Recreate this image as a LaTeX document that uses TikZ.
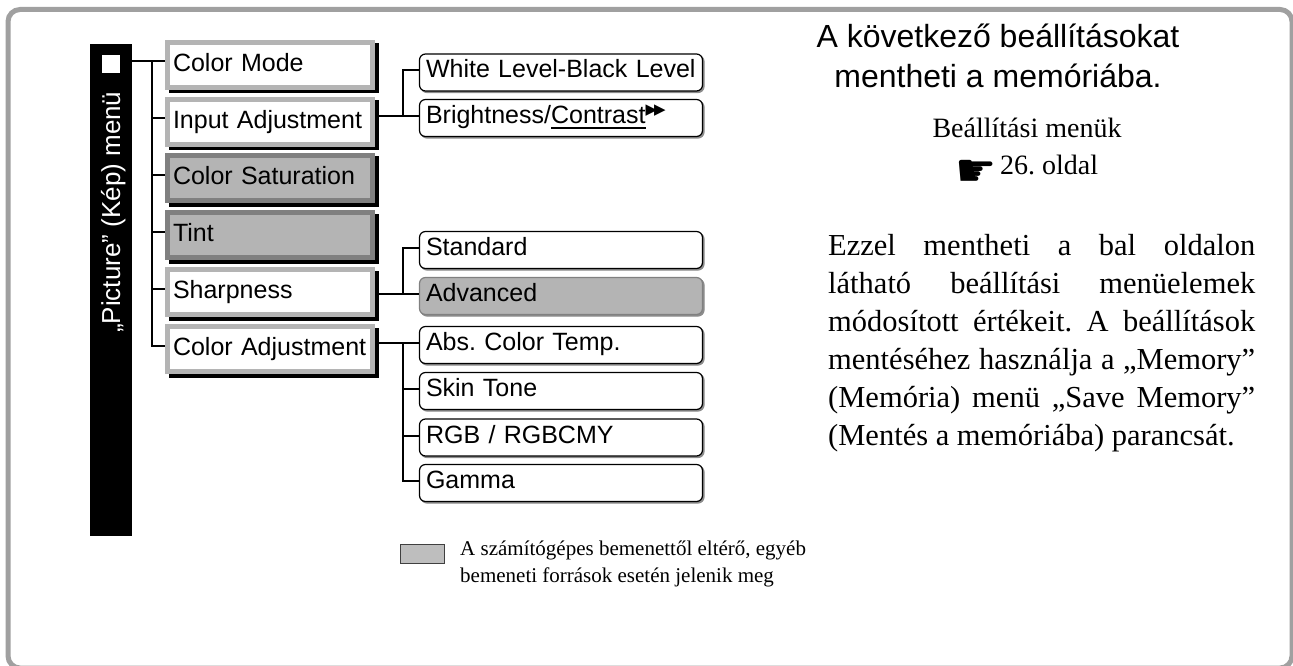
\documentclass[tikz,border=0pt]{standalone}
\usepackage{fontspec}
\setmainfont{Liberation Serif}
\newfontfamily\arialf{Liberation Sans}
\newfontfamily\dejavuf{DejaVu Sans}
\usetikzlibrary{shadows}
\definecolor{framegray}{HTML}{A0A0A0}
\definecolor{lightbord}{HTML}{B4B4B4}
\definecolor{grayfill}{HTML}{B4B4B4}
\definecolor{darkbord}{HTML}{808080}
\definecolor{shadowgray}{HTML}{8C8C8C}
\definecolor{legfill}{HTML}{BEBEBE}
\frenchspacing
\hyphenpenalty=10000
\newcommand\ulcontrast[1]{\leavevmode\vtop{\hbox{#1}\kern3.3pt\hrule height1.5pt}}
\begin{document}
\begin{tikzpicture}[x=1pt,y=-1pt,
  conn/.style={line width=2pt},
  mainbox/.style={rectangle, draw=lightbord, fill=white, line width=5pt,
    minimum height=45pt, text width=194pt, inner xsep=5.5pt, inner ysep=0pt,
    align=left, text height=18pt, text depth=5pt,
    font=\arialf\fontsize{25}{30}\selectfont,
    general shadow={fill=black, draw=black, line width=5pt, shadow xshift=4pt, shadow yshift=-3.5pt}},
  graymain/.style={mainbox, draw=darkbord, fill=grayfill},
  subbox/.style={rectangle, rounded corners=6pt, draw=black, fill=white, line width=1.2pt,
    minimum height=37pt, text width=270pt, inner xsep=6.5pt, inner ysep=0pt,
    align=left, text height=18pt, text depth=7pt,
    font=\arialf\fontsize{25}{30}\selectfont,
    general shadow={fill=shadowgray, draw=shadowgray, line width=1.2pt, shadow xshift=1.5pt, shadow yshift=-1.5pt}},
  graysub/.style={subbox, draw=darkbord, fill=grayfill},
]
\useasboundingbox (0,0) rectangle (1293,666);
\clip (0,0) rectangle (1293,666);

% outer frame
\draw[framegray, line width=5pt, rounded corners=12pt] (8,9.5) rectangle (1292,668);

% vertical menu bar
\node[fill=black, minimum width=42pt, minimum height=492pt, inner sep=0pt, outer sep=0pt] (bar) at (111,290) {};
\node[fill=white, minimum size=18pt, inner sep=0pt] (sq) at (111,64) {};
\node[rotate=90, anchor=base west, text=white, inner sep=0pt, font=\arialf\fontsize{26}{26}\selectfont] (bartext) at (120,333) {„Picture” (Kép) menü};

% first level
\node[mainbox] (cm) at (270,65) {Color Mode};
\node[mainbox] (ia) at (270,122) {Input Adjustment};
\node[graymain] (cs) at (270,178) {Color Saturation};
\node[graymain] (ti) at (270,235) {Tint};
\node[mainbox] (sh) at (270,292) {Sharpness};
\node[mainbox] (ca) at (270,349) {Color Adjustment};

% second level
\node[subbox] (wl) at (561,72.5) {White Level-Black Level};
\node[subbox] (bc) at (561,118) {Brightness/\ulcontrast{Contrast}\raisebox{9pt}{\dejavuf\fontsize{15}{15}\selectfont ▶\kern-3pt▶}};
\node[subbox] (st) at (561,250) {Standard};
\node[graysub] (ad) at (561,296) {Advanced};
\node[subbox] (ab) at (561,345) {Abs. Color Temp.};
\node[subbox] (sk) at (561,391) {Skin Tone};
\node[subbox] (rg) at (561,437.5) {RGB / RGBCMY};
\node[subbox] (ga) at (561,483) {Gamma};

% tick coordinates
\foreach \n in {cm,ia,cs,ti,sh,ca} \coordinate (t\n) at ([yshift=3.5pt]\n.west);
\foreach \n in {wl,bc,st,ad,ab,sk,rg,ga} \coordinate (t\n) at ([yshift=2pt]\n.west);
\coordinate (tx) at (152,0);
\coordinate (bx) at (403,0);

% connectors level 1
\draw[conn] (bar.east |- tcm) -- (tcm);
\draw[conn] (tx |- tcm) |- (tca);
\foreach \n in {ia,cs,ti,sh} \draw[conn] (tx |- t\n) -- (t\n);

% connectors level 2
\draw[conn] (ia.east |- tbc) -- (tbc);
\draw[conn] (bx |- tbc) |- (twl);
\draw[conn] (sh.east |- tad) -- (tad);
\draw[conn] (bx |- tad) |- (tst);
\draw[conn] (ca.east |- tab) -- (tab);
\draw[conn] (bx |- tab) |- (tga);
\draw[conn] (bx |- tsk) -- (tsk);
\draw[conn] (bx |- trg) -- (trg);

% legend
\node[draw=black!75, fill=legfill, line width=0.8pt, minimum width=44pt, minimum height=19pt, inner sep=0pt] (leg) at (422,553.5) {};
\node[anchor=base west, align=left, inner sep=0pt, font=\fontsize{21}{27}\selectfont] (legt) at (460,582)
  {A számítógépes bemenettől eltérő, egyéb\\bemeneti források esetén jelenik meg};

% right column
\node[anchor=base, inner sep=0pt, font=\arialf\fontsize{32}{40}\selectfont] (title1) at (998,48) {A következő beállításokat};
\node[anchor=base, inner sep=0pt, font=\arialf\fontsize{32}{40}\selectfont] (title2) at (998,88) {mentheti a memóriába.};
\node[anchor=base, inner sep=0pt, font=\fontsize{28}{34}\selectfont] (ref1) at (1027,138) {Beállítási menük};
\node[anchor=base, inner sep=0pt, font=\fontsize{28}{34}\selectfont] (ref2) at (1027,175) {\raisebox{-12pt}{\dejavuf\fontsize{46}{46}\selectfont ☛}\kern3pt 26. oldal};
\node[anchor=base west, text width=427pt, align=justify, inner sep=0pt, font=\fontsize{30.5}{38}\selectfont] (para) at (828,255)
  {Ezzel mentheti a bal oldalon\linebreak
   látható beállítási menüelemek\linebreak
   módosított értékeit. A beállítások\linebreak
   mentéséhez használja a „Memory”\linebreak
   (Memória) menü „Save Memory”\linebreak
   (Mentés a memóriába) parancsát.};
\end{tikzpicture}
\end{document}
